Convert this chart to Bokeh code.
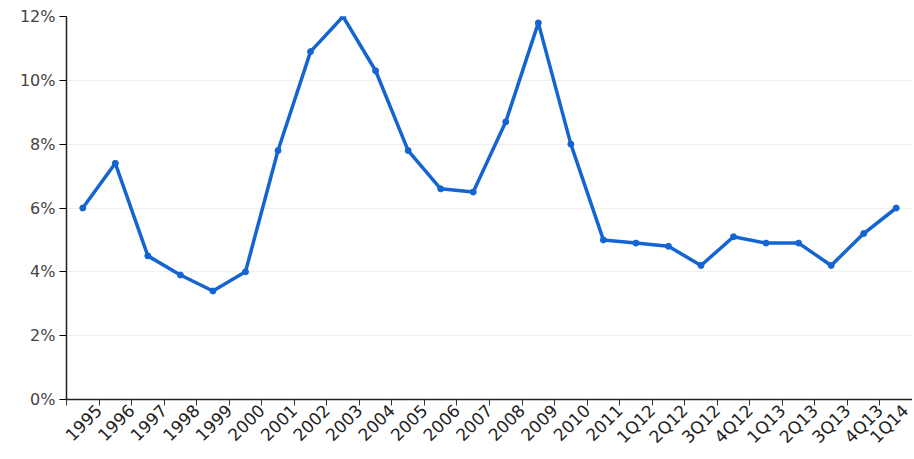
from bokeh.plotting import figure
from bokeh.models import Range1d, FixedTicker, PrintfTickFormatter
from bokeh.embed import file_html
from bokeh.resources import INLINE

categories = ["1995", "1996", "1997", "1998", "1999", "2000", "2001", "2002", "2003",
              "2004", "2005", "2006", "2007", "2008", "2009", "2010", "2011",
              "1Q12", "2Q12", "3Q12", "4Q12", "1Q13", "2Q13", "3Q13", "4Q13", "1Q14"]
values = [6.0, 7.4, 4.5, 3.9, 3.4, 4.0, 7.8, 10.9, 12.0, 10.3, 7.8, 6.6, 6.5, 8.7,
          11.8, 8.0, 5.0, 4.9, 4.8, 4.2, 5.1, 4.9, 4.9, 4.2, 5.2, 6.0]
y_ticks = [0, 2, 4, 6, 8, 10, 12]

n = len(categories)
xs = [i + 0.5 for i in range(n)]          # category centres
bounds = list(range(0, n + 1))            # category boundaries (tick marks)

p = figure(width=912, height=457, output_backend="svg", toolbar_location=None,
           x_range=Range1d(0, n), y_range=Range1d(0, 12),
           min_border_left=66, min_border_top=16, min_border_right=0, min_border_bottom=58)
p.outline_line_color = None
p.background_fill_color = "white"

p.line(xs, values, line_color="#1464d2", line_width=3.5)
p.scatter(xs, values, size=6, fill_color="#1464d2", line_color="#1464d2")

xa = p.xaxis[0]
xa.ticker = FixedTicker(ticks=bounds)
xa.major_label_overrides = {0: ""} | {i + 1: c for i, c in enumerate(categories)}
xa.major_label_orientation = 0.785
xa.major_tick_in = 0
xa.major_tick_out = 6
xa.major_tick_line_color = "#333333"
xa.minor_tick_line_color = None
xa.axis_line_color = "#222222"
xa.axis_line_width = 1.5
xa.major_label_text_font = "DejaVu Sans"
xa.major_label_text_font_size = "17px"
xa.major_label_text_color = "#222222"
xa.major_label_standoff = 2

ya = p.yaxis[0]
ya.ticker = FixedTicker(ticks=y_ticks)
ya.formatter = PrintfTickFormatter(format="%d%%")
ya.major_tick_in = 0
ya.major_tick_out = 7
ya.minor_tick_line_color = None
ya.axis_line_color = "#222222"
ya.axis_line_width = 1.5
ya.major_label_text_font = "DejaVu Sans"
ya.major_label_text_font_size = "16px"
ya.major_label_text_color = "#444444"
ya.major_label_standoff = 4

p.xgrid.grid_line_color = None
p.ygrid.ticker = FixedTicker(ticks=y_ticks)
p.ygrid.grid_line_color = "#f0f0f0"

open("out.html", "w").write(file_html(p, INLINE))
